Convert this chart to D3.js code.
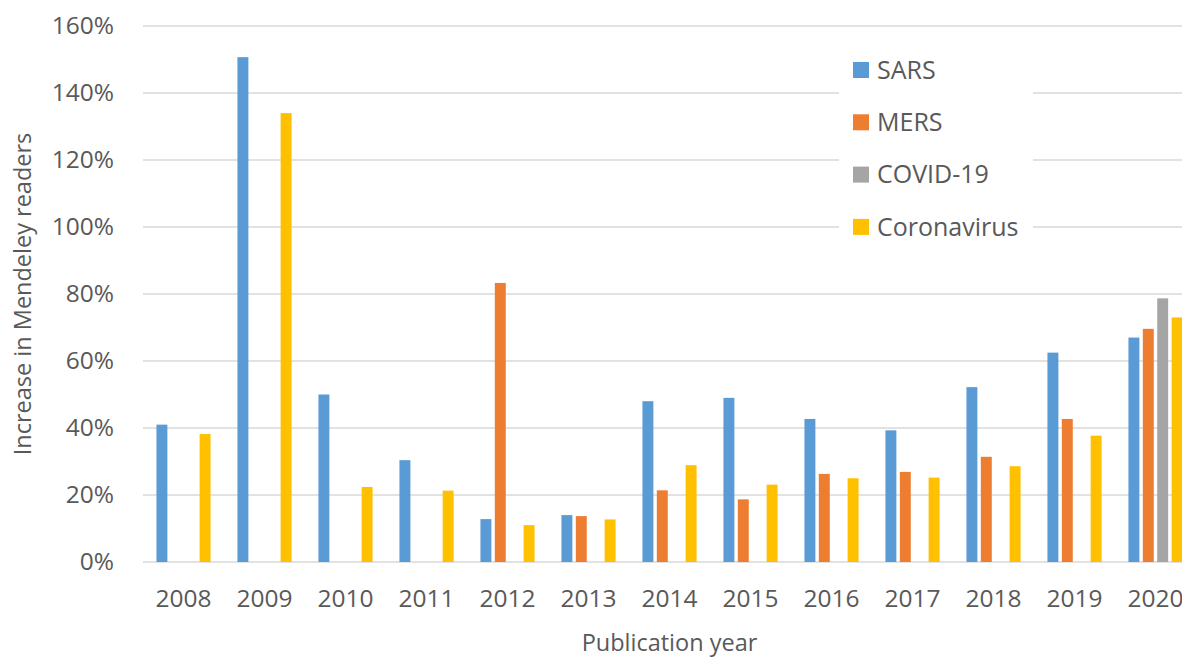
<!DOCTYPE html>
<html>
<head>
<meta charset="utf-8">
<script src="https://cdn.jsdelivr.net/npm/d3@7"></script>
<style>
    body { margin: 0; background: #fff; }
    svg { display: block; font-family: "Open Sans", sans-serif; }
    text { fill: #595959; }
</style>
</head>
<body>
<svg id="chart" width="1182" height="657"></svg>
<script>
// data (percent)
let years = ["2008", "2009", "2010", "2011", "2012", "2013", "2014", "2015", "2016", "2017", "2018", "2019", "2020"]
let seriesNames = ["SARS", "MERS", "COVID-19", "Coronavirus"]
let sars = [41, 150.7, 50, 30.4, 12.8, 14, 48, 49, 42.7, 39.3, 52.2, 62.5, 67]
let mers = [null, null, null, null, 83.3, 13.7, 21.4, 18.7, 26.3, 26.9, 31.4, 42.7, 69.6]
let covid = [null, null, null, null, null, null, null, null, null, null, null, null, 78.7]
let coronavirus = [38.2, 134, 22.4, 21.3, 11, 12.7, 28.9, 23.1, 25, 25.2, 28.6, 37.7, 73]
let yTicks = [0, 20, 40, 60, 80, 100, 120, 140, 160]

let colors = ["#5B9BD5", "#ED7D31", "#A5A5A5", "#FFC000"]
let margin = { left: 143, top: 26 }
let bodyHeight = 536
let bodyWidth = 13 * 81

let svg = d3.select("#chart")
let values = [sars, mers, covid, coronavirus]

let rows = years.map((y, i) => ({
    year: y,
    bars: seriesNames.map((s, j) => ({ key: s, value: values[j][i], color: colors[j] }))
}))

let yScale = d3.scaleLinear()
    .domain([0, 160])
    .range([bodyHeight, 0])

let x0 = d3.scaleBand()
    .domain(years)
    .range([0, bodyWidth])
    .paddingInner(0.289)
    .paddingOuter(0.1445)

let x1 = d3.scaleBand()
    .domain(seriesNames)
    .range([0, x0.bandwidth()])
    .paddingInner(0.24)
    .paddingOuter(0.12)

let body = svg.append("g")
    .attr("transform", `translate(${margin.left},${margin.top})`)

// gridlines
body.append("g")
    .selectAll("line")
    .data(yTicks)
    .join("line")
    .attr("x1", 0)
    .attr("x2", bodyWidth)
    .attr("y1", d => yScale(d))
    .attr("y2", d => yScale(d))
    .attr("stroke", "#D9D9D9")
    .attr("stroke-width", 1.5)

// bars
body.append("g")
    .selectAll("g")
    .data(rows)
    .join("g")
    .attr("transform", d => `translate(${x0(d.year)},0)`)
    .selectAll("rect")
    .data(d => d.bars.filter(b => b.value != null))
    .join("rect")
    .attr("x", d => x1(d.key))
    .attr("width", x1.bandwidth())
    .attr("y", d => yScale(d.value))
    .attr("height", d => bodyHeight - yScale(d.value))
    .attr("fill", d => d.color)

// y axis
let yAxis = body.append("g")
    .call(d3.axisLeft(yScale)
        .tickValues(yTicks)
        .tickSize(0)
        .tickPadding(29)
        .tickFormat(d => d + "%"))
yAxis.select(".domain").remove()
yAxis.selectAll("text")
    .attr("font-size", 24.5)
    .attr("font-family", "Open Sans")

// x axis
let xAxis = body.append("g")
    .attr("transform", `translate(0,${bodyHeight})`)
    .call(d3.axisBottom(x0).tickSize(0).tickPadding(28))
xAxis.select(".domain").remove()
xAxis.selectAll("text")
    .attr("font-size", 24.5)
    .attr("font-family", "Open Sans")

// axis titles
svg.append("text")
    .attr("transform", `translate(31,294) rotate(-90)`)
    .attr("text-anchor", "middle")
    .attr("font-size", 23.5)
    .text("Increase in Mendeley readers")

svg.append("text")
    .attr("x", margin.left + bodyWidth / 2)
    .attr("y", 651)
    .attr("text-anchor", "middle")
    .attr("font-size", 23.5)
    .text("Publication year")

// legend
let legend = svg.append("g")
legend.append("rect")
    .attr("x", 839)
    .attr("y", 40)
    .attr("width", 194)
    .attr("height", 210)
    .attr("fill", "#fff")

let items = legend.selectAll("g.item")
    .data(seriesNames)
    .join("g")
    .attr("class", "item")
    .attr("transform", (d, i) => `translate(853,${70 + i * 52.3})`)
items.append("rect")
    .attr("x", 0)
    .attr("y", -8)
    .attr("width", 16)
    .attr("height", 16)
    .attr("fill", (d, i) => colors[i])
items.append("text")
    .attr("x", 24)
    .attr("dy", "0.35em")
    .attr("font-size", 25)
    .text(d => d)
</script>
</body>
</html>
